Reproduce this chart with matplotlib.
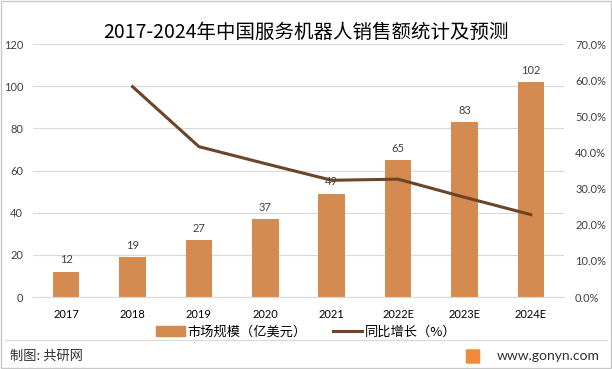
import matplotlib
matplotlib.use("Agg")
import matplotlib.pyplot as plt
from matplotlib.patches import Rectangle, FancyBboxPatch
from matplotlib.lines import Line2D

plt.rcParams['font.family'] = ['Noto Sans CJK SC', 'DejaVu Sans']

categories = ["2017", "2018", "2019", "2020", "2021", "2022E", "2023E", "2024E"]
market = [12, 19, 27, 37, 49, 65, 83, 102]
growth = [None, 58.2, 41.6, 36.9, 32.3, 32.6, 27.6, 22.8]

bar_color = "#D58B4F"
line_color = "#6B4429"
text_color = "#404040"
num_font = ['Lato', 'DejaVu Sans']

fig = plt.figure(figsize=(6.12, 3.69), dpi=100)
ax = fig.add_axes([33/612, 1-297/369, 531/612, 253/369])
ax2 = ax.twinx()

x = list(range(len(categories)))
ax.bar(x, market, width=0.4, color=bar_color, zorder=2)
for xi, v in zip(x, market):
    ax.text(xi, v + 3, str(v), ha='center', va='bottom', fontsize=8, color=text_color,
            family=num_font)

gx = [xi for xi, g in zip(x, growth) if g is not None]
gy = [g for g in growth if g is not None]
ax2.plot(gx, gy, color=line_color, lw=2.2, zorder=3)

ax.set_xlim(-0.5, len(categories) - 0.5)
ax.set_ylim(0, 120)
ax.set_yticks(range(0, 121, 20))
ax2.set_ylim(0, 70)
ax2.set_yticks(range(0, 71, 10))
ax2.set_yticklabels([f"{v:.1f}%" for v in range(0, 71, 10)])
ax.grid(axis='y', color='#D9D9D9', lw=0.8, zorder=0)
ax.set_axisbelow(True)
ax.set_xticks(x)
ax.set_xticklabels(categories)

for a in (ax, ax2):
    for s in a.spines.values():
        s.set_visible(False)
    a.tick_params(length=0, labelsize=8, colors=text_color)
    for lab in a.get_xticklabels() + a.get_yticklabels():
        lab.set_family(num_font)
ax.spines['bottom'].set_visible(True)
ax.spines['bottom'].set_color('#D9D9D9')
ax.tick_params(axis='y', pad=7)
ax2.tick_params(axis='y', pad=8)
ax.tick_params(axis='x', pad=9, labelcolor='#000000')

fig.text(0.5, 1-32/369, "2017-2024年中国服务机器人销售额统计及预测", ha='center', va='center',
         fontsize=14, color='#000000')

handles = [Rectangle((0, 0), 1, 1, color=bar_color),
           Line2D([0], [0], color=line_color, lw=2.2)]
fig.legend(handles, ["市场规模（亿美元）", "同比增长（%）"], loc='center',
           bbox_to_anchor=(0.5, 1-332/369), ncol=2, frameon=False, fontsize=9.5,
           handlelength=2.2, handleheight=0.7, columnspacing=2.0, handletextpad=0.2)

fig.add_artist(Line2D([5/612, 607/612], [1-340/369, 1-340/369], color='#D9D9D9', lw=0.8))
fig.add_artist(Rectangle((1/612, 1/369), 610/612, 367/369, fill=False, ec='#C8C8C8', lw=1))
fig.text(10/612, 1-356/369, "制图: 共研网", ha='left', va='center', fontsize=9.5, color='#303030')
fig.text(600/612, 1-356/369, "www.gonyn.com", ha='right', va='center', fontsize=10,
         color='#303030', family=['Lato', 'DejaVu Sans'])
fig.add_artist(FancyBboxPatch((467/612, 1-363/369), 12/612, 13/369,
                              boxstyle="round,pad=0.002", fc='#F08A3C', ec='none'))

fig.savefig("out.png", dpi=100)
